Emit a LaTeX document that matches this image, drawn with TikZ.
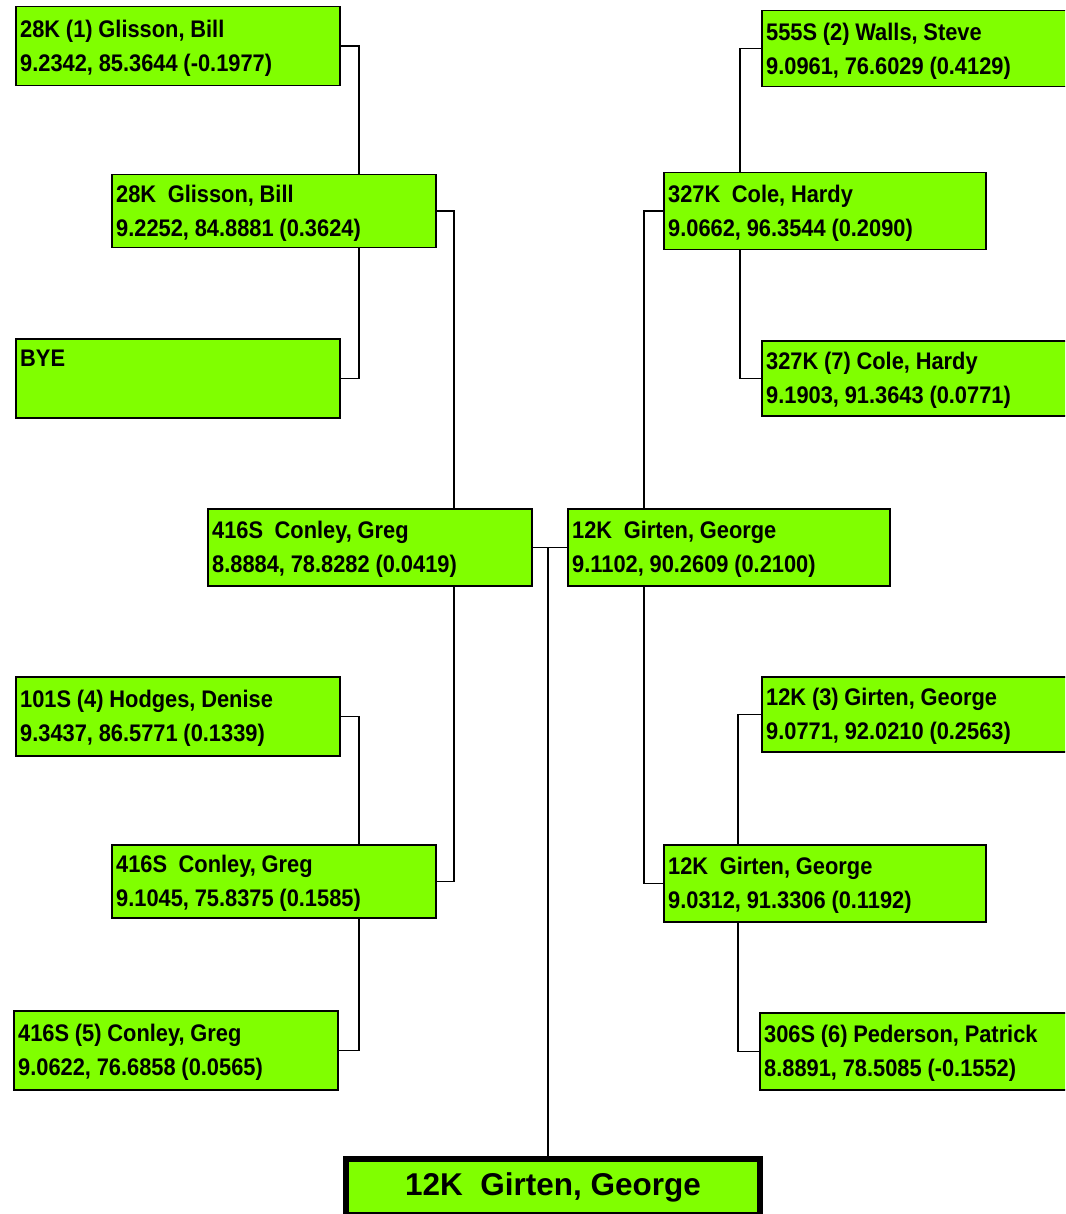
\documentclass[tikz,border=0pt]{standalone}
\usepackage{fontspec}
\setmainfont{Liberation Sans}
\newfontfamily\narrowbold{Liberation Sans}[FakeStretch=0.91,WordSpace=0.95]
\definecolor{boxgreen}{RGB}{128,255,0}
\tikzset{
  entry/.style={draw=black, line width=1.5pt, fill=boxgreen, anchor=north west,
    inner sep=0pt},
  entrytext/.style={anchor=west, inner sep=0pt, align=left,
    font=\narrowbold\bfseries\fontsize{24}{34}\selectfont},
  champ/.style={draw=black, line width=6pt, fill=boxgreen, anchor=north west,
    inner sep=0pt, align=center,
    font=\bfseries\fontsize{31.5}{34}\selectfont},
  link/.style={draw=black, line width=1.5pt}
}
\newcommand{\entrybox}[7]{% name, left, top, right, bottom, line1, line2
  \node[entry, minimum width=#4-#2, minimum height=#5-#3] (#1) at (#2,#3) {};
  \path (#1.west) ++(5,2.5) node[entrytext] (#1t) {#6\\#7};}
\begin{document}
\begin{tikzpicture}[x=1pt,y=-1pt]
\useasboundingbox (0,0) rectangle (1065,1214);
\clip (0,0) rectangle (1065,1214);
\fill[white] (0,0) rectangle (1065,1214);
% left half
\entrybox{b1}{15}{6}{339}{85}{28K (1) Glisson, Bill}{9.2342, 85.3644 (-0.1977)}
\entrybox{b2}{111}{174}{435}{247}{28K\ \ Glisson, Bill}{9.2252, 84.8881 (0.3624)}
\entrybox{b3}{15}{338}{339}{417}{BYE}{\strut}
\entrybox{b4}{207}{508}{531}{585}{416S\ \ Conley, Greg}{8.8884, 78.8282 (0.0419)}
\entrybox{b5}{15}{676}{339}{755}{101S (4) Hodges, Denise}{9.3437, 86.5771 (0.1339)}
\entrybox{b6}{111}{844}{435}{917}{416S\ \ Conley, Greg}{9.1045, 75.8375 (0.1585)}
\entrybox{b7}{13}{1010}{337}{1089}{416S (5) Conley, Greg}{9.0622, 76.6858 (0.0565)}
% right half
\entrybox{b8}{761}{10}{1075}{86}{555S (2) Walls, Steve}{9.0961, 76.6029 (0.4129)}
\entrybox{b9}{663}{172}{985}{249}{327K\ \ Cole, Hardy}{9.0662, 96.3544 (0.2090)}
\entrybox{b10}{761}{340}{1075}{415}{327K (7) Cole, Hardy}{9.1903, 91.3643 (0.0771)}
\entrybox{b11}{567}{508}{889}{585}{12K\ \ Girten, George}{9.1102, 90.2609 (0.2100)}
\entrybox{b12}{761}{676}{1075}{751}{12K (3) Girten, George}{9.0771, 92.0210 (0.2563)}
\entrybox{b13}{663}{844}{985}{921}{12K\ \ Girten, George}{9.0312, 91.3306 (0.1192)}
\entrybox{b14}{759}{1012}{1075}{1089}{306S (6) Pederson, Patrick}{8.8891, 78.5085 (-0.1552)}
% champion
\node[champ, minimum width=414, minimum height=56] (fin) at (343,1156) {12K\ \ Girten, George};
% column positions
\coordinate (xl1) at (359,0);
\coordinate (xl2) at (454,0);
\coordinate (xr1) at (740,0);
\coordinate (xr2) at (644,0);
\coordinate (xr3) at (738,0);
\coordinate (xc) at (548,0);
% left connectors
\draw[link] (b1.east) -| (b2.north -| xl1);
\draw[link] (b3.east) -| (b2.south -| xl1);
\draw[link] (b5.east) -| (b6.north -| xl1);
\draw[link] (b7.east) -| (b6.south -| xl1);
\draw[link] (b2.east) -| (b4.north -| xl2);
\draw[link] (b6.east) -| (b4.south -| xl2);
% right connectors
\draw[link] (b8.west) -| (b9.north -| xr1);
\draw[link] (b10.west) -| (b9.south -| xr1);
\draw[link] (b12.west) -| (b13.north -| xr3);
\draw[link] (b14.west) -| (b13.south -| xr3);
\draw[link] (b9.west) -| (b11.north -| xr2);
\draw[link] (b13.west) -| (b11.south -| xr2);
% final
\draw[link] (b4.east) -- (b11.west);
\coordinate (mid) at (b4.east -| xc);
\draw[link] (mid) -- (fin.north -| xc);
\end{tikzpicture}
\end{document}
